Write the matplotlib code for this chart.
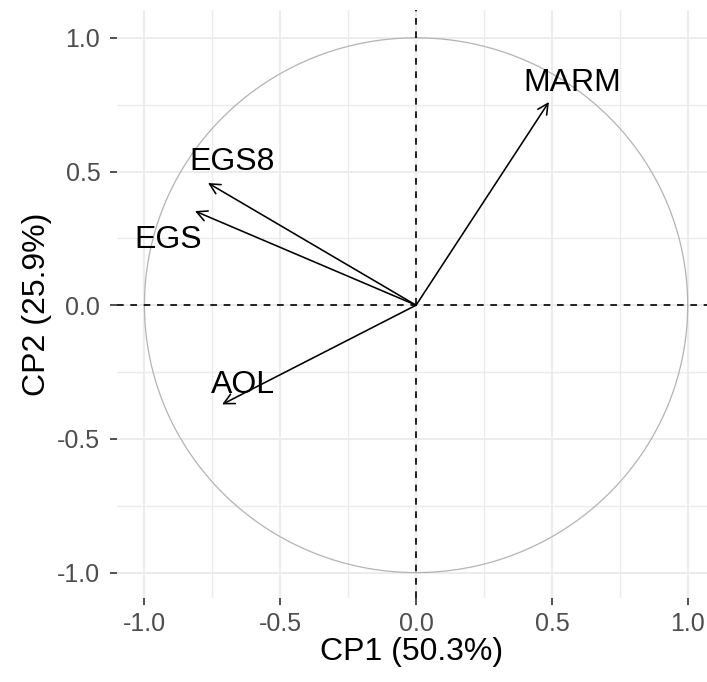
import matplotlib
matplotlib.use("Agg")
import matplotlib.pyplot as plt
import numpy as np

# variable coordinates on the correlation circle (CP1, CP2)
variables = ["MARM", "EGS8", "EGS", "AOL"]
cp1 = [0.489, -0.766, -0.814, -0.714]
cp2 = [0.760, 0.457, 0.352, -0.371]
# where the (repelled) labels ended up
label_x = [0.574, -0.678, -0.913, -0.637]
label_y = [0.830, 0.535, 0.244, -0.298]

ticks = [-1.0, -0.5, 0.0, 0.5, 1.0]
minor_ticks = [-0.75, -0.25, 0.25, 0.75]
xlabel = "CP1 (50.3%)"
ylabel = "CP2 (25.9%)"

plt.rcParams["font.family"] = ["Liberation Sans", "DejaVu Sans"]

W, H = 707, 682
fig = plt.figure(figsize=(W / 100, H / 100), dpi=100)
ax = fig.add_axes([117 / W, (H - 598) / H, (W - 117) / W, (598 - 10) / H])

ax.set_xlim(-1.101, 1.071)
ax.set_ylim(-1.095, 1.104)

# grid in the theme_minimal style
ax.set_xticks(ticks)
ax.set_yticks(ticks)
ax.set_xticks(minor_ticks, minor=True)
ax.set_yticks(minor_ticks, minor=True)
ax.grid(which="major", color="#EBEBEB", lw=1.3)
ax.grid(which="minor", color="#EBEBEB", lw=1.0)
ax.set_axisbelow(True)
for s in ax.spines.values():
    s.set_visible(False)
ax.tick_params(which="major", length=5, width=1.2, color="#333333",
               labelsize=18, labelcolor="#4D4D4D")
ax.tick_params(axis="y", pad=7)
ax.tick_params(axis="x", pad=5)
ax.tick_params(which="minor", length=0)
ax.set_xticklabels([f"{t:.1f}" for t in ticks])
ax.set_yticklabels([f"{t:.1f}" for t in ticks])

# unit circle
theta = np.linspace(0, 2 * np.pi, 400)
ax.plot(np.cos(theta), np.sin(theta), color="#B3B3B3", lw=0.9)

ax.axhline(0, color="black", lw=1.2, ls=(0, (4, 4)))
ax.axvline(0, color="black", lw=1.2, ls=(0, (4, 4)))

for name, x, y, lx, ly in zip(variables, cp1, cp2, label_x, label_y):
    ax.annotate("", xy=(x, y), xytext=(0, 0),
                arrowprops=dict(arrowstyle="->,head_length=0.75,head_width=0.38",
                                color="black", lw=1.15, shrinkA=0, shrinkB=0))
    ax.text(lx, ly, name, fontsize=23, ha="center", va="center", color="black")

ax.set_xlabel(xlabel, fontsize=23, labelpad=1)
ax.set_ylabel(ylabel, fontsize=23, labelpad=4)

fig.savefig("out.png", dpi=100)
